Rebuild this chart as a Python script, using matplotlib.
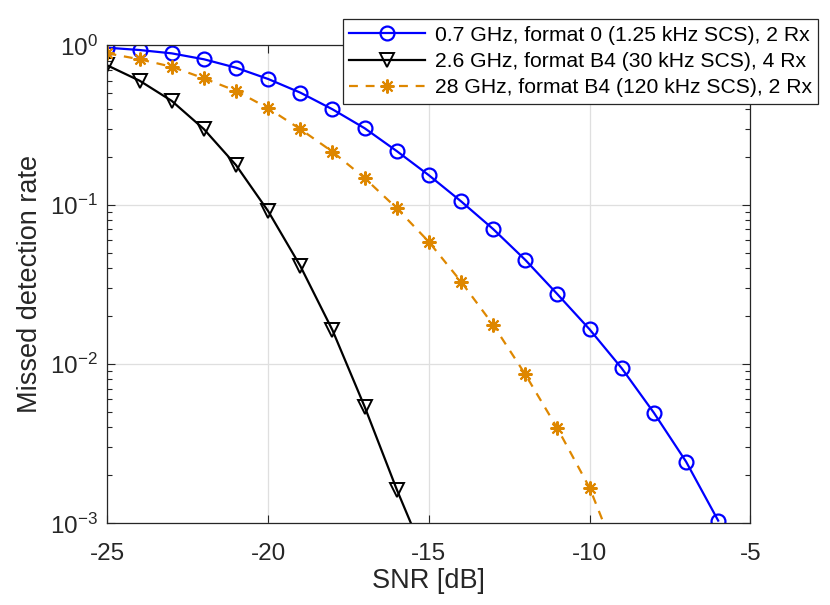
import numpy as np
import matplotlib
matplotlib.use("Agg")
import matplotlib.pyplot as plt
from matplotlib.ticker import LogLocator, NullFormatter, FixedLocator

plt.rcParams['font.family'] = ['Liberation Sans', 'DejaVu Sans']
plt.rcParams['mathtext.fontset'] = 'custom'
plt.rcParams['mathtext.rm'] = 'Liberation Sans'
plt.rcParams['mathtext.it'] = 'Liberation Sans'
plt.rcParams['axes.unicode_minus'] = False

# SNR grid [dB]
snr_blue = [-25, -24, -23, -22, -21, -20, -19, -18, -17, -16, -15, -14, -13,
            -12, -11, -10, -9, -8, -7, -6]
mdr_blue = [0.967, 0.935, 0.891, 0.818, 0.724, 0.615, 0.505, 0.397, 0.302,
            0.217, 0.153, 0.105, 0.0703, 0.045, 0.0274, 0.0165, 0.0094,
            0.00494, 0.00244, 0.00104]

snr_black = [-25, -24, -23, -22, -21, -20, -19, -18, -17, -16, -15]
mdr_black = [0.748, 0.60, 0.448, 0.298, 0.177, 0.091, 0.0412, 0.0163,
             0.0054, 0.00163, 0.00054]

snr_orange = [-25, -24, -23, -22, -21, -20, -19, -18, -17, -16, -15, -14,
              -13, -12, -11, -10, -9]
mdr_orange = [0.891, 0.818, 0.734, 0.621, 0.518, 0.403, 0.298, 0.215, 0.147,
              0.095, 0.0584, 0.0329, 0.0176, 0.0086, 0.00394, 0.00167,
              0.00052]

labels = ['0.7 GHz, format 0 (1.25 kHz SCS), 2 Rx',
          '2.6 GHz, format B4 (30 kHz SCS), 4 Rx',
          '28 GHz, format B4 (120 kHz SCS), 2 Rx']

orange = '#DE8700'
axcol = '#262626'

fig = plt.figure(figsize=(8.3, 6.05), dpi=100)
ax = fig.add_axes([0.1295, 0.135, 0.7745, 0.79])

ax.semilogy(snr_blue, mdr_blue, '-o', color='blue', lw=1.6, ms=10,
            mfc='none', mew=1.6, label=labels[0])
ax.semilogy(snr_black, mdr_black, '-v', color='black', lw=1.6, ms=10.5,
            mfc='none', mew=1.4, label=labels[1])
ax.semilogy(snr_orange, mdr_orange, '--', marker=(8, 2, 0), color=orange,
            lw=1.6, ms=10, mew=1.5, label=labels[2], dashes=(4, 3.5))

ax.set_xlim(-25, -5)
ax.set_ylim(1e-3, 1)
ax.xaxis.set_major_locator(FixedLocator([-25, -20, -15, -10, -5]))
ax.yaxis.set_major_locator(LogLocator(base=10, numticks=10))
ax.yaxis.set_minor_locator(LogLocator(base=10, subs=np.arange(2, 10), numticks=10))
ax.yaxis.set_minor_formatter(NullFormatter())

ax.grid(True, which='major', color='#DFDFDF', lw=0.9)
ax.set_axisbelow(True)
ax.tick_params(which='both', direction='in', top=True, right=True,
               colors=axcol, labelcolor='#262626', labelsize=17.5)
ax.tick_params(which='major', length=6, width=0.8)
ax.tick_params(which='minor', length=3.5, width=0.8)
ax.tick_params(axis='x', pad=14)
ax.tick_params(axis='y', pad=7)
for s in ax.spines.values():
    s.set_color(axcol)
    s.set_linewidth(0.9)

ax.set_xlabel('SNR [dB]', fontsize=19.5, color='#262626', labelpad=2)
ax.set_ylabel('Missed detection rate', fontsize=19.5, color='#262626',
              labelpad=5)

leg = fig.legend(loc='upper right', bbox_to_anchor=(0.986, 0.968),
                 fontsize=15.2, frameon=True, fancybox=False, framealpha=1,
                 edgecolor='#262626', handlelength=3.6, borderpad=0.3,
                 labelspacing=0.35, handletextpad=0.45, borderaxespad=0)
leg.get_frame().set_linewidth(0.9)

fig.savefig('out.png', dpi=100)
